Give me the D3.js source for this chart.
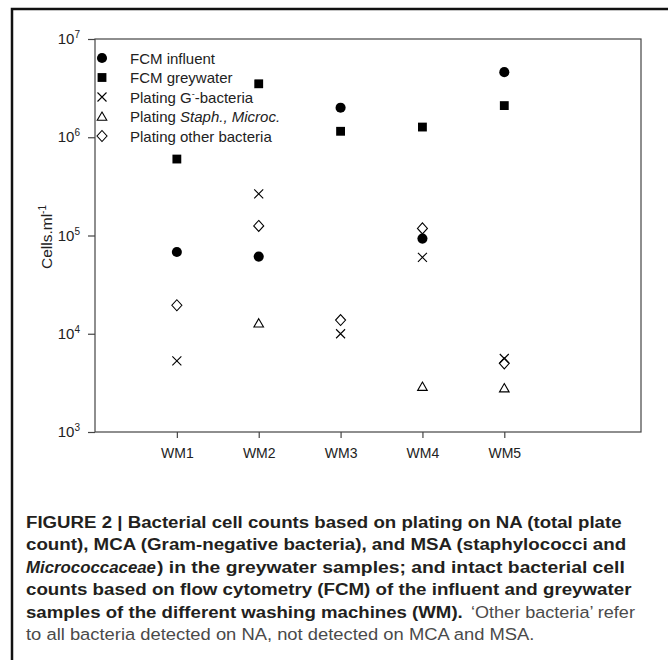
<!DOCTYPE html>
<html>
<head>
<meta charset="utf-8">
<script src="https://cdn.jsdelivr.net/npm/d3@7"></script>
<style>
  body { margin: 0; background: #fff; }
  svg { display: block; font-family: Arial, 'Liberation Sans', sans-serif; }
</style>
</head>
<body>
<div id="chart"></div>
<script>
// washing machines
const categories = ['WM1', 'WM2', 'WM3', 'WM4', 'WM5']

// cells per ml (null = not shown)
const fcmInfluent = [6.8e4, 6.1e4, 2.0e6, 9.3e4, 4.6e6]
const fcmGreywater = [6.0e5, 3.5e6, 1.15e6, 1.27e6, 2.1e6]
const platingGneg = [5.3e3, 2.65e5, 1.0e4, 6.0e4, 5.6e3]
const platingStaph = [null, 1.28e4, null, 2.9e3, 2.8e3]
const platingOther = [1.95e4, 1.25e5, 1.38e4, 1.18e5, 5.0e3]

const yTicks = [1e3, 1e4, 1e5, 1e6, 1e7]

// caption pieces: text, bold, italic, line, left x, right x
const captionParts = [
  { t: 'FIGURE 2 | Bacterial cell counts based on plating on NA (total plate', b: true, line: 0, x0: 26, x1: 622 },
  { t: 'count), MCA (Gram-negative bacteria), and MSA (staphylococci and', b: true, line: 1, x0: 26, x1: 627 },
  { t: 'Micrococcaceae', b: true, i: true, line: 2, x0: 26, x1: 156 },
  { t: ') in the greywater samples; and intact bacterial cell', b: true, line: 2, x0: 157, x1: 625 },
  { t: 'counts based on flow cytometry (FCM) of the influent and greywater', b: true, line: 3, x0: 26, x1: 632 },
  { t: 'samples of the different washing machines (WM).', b: true, line: 4, x0: 26, x1: 463 },
  { t: '\u2018Other bacteria\u2019 refer', b: false, line: 4, x0: 471, x1: 635 },
  { t: 'to all bacteria detected on NA, not detected on MCA and MSA.', b: false, line: 5, x0: 26, x1: 535 }
]

const width = 668
const height = 660
const plot = { left: 95, right: 641, top: 39, bottom: 432 }

const svg = d3.select('#chart')
  .append('svg')
  .attr('width', width)
  .attr('height', height)

// frame (top and left rule)
svg.append('path')
  .attr('d', `M12,${height} L12,9 L${width},9`)
  .attr('fill', 'none')
  .attr('stroke', '#111')
  .attr('stroke-width', 2.5)

const x = d3.scaleLinear().domain([0, 6.67]).range([plot.left, plot.right])
const y = d3.scaleLog().domain([1e3, 1e7]).range([plot.bottom, plot.top])

const axisColor = '#444'

// box
svg.append('rect')
  .attr('x', plot.left)
  .attr('y', plot.top)
  .attr('width', plot.right - plot.left)
  .attr('height', plot.bottom - plot.top)
  .attr('fill', 'none')
  .attr('stroke', axisColor)
  .attr('stroke-width', 1.2)

// y axis
const yAxis = svg.append('g')
  .attr('transform', `translate(${plot.left},0)`)
  .call(d3.axisLeft(y).tickValues(yTicks).tickSize(7).tickFormat(''))
yAxis.select('.domain').remove()
yAxis.selectAll('.tick line').attr('stroke', axisColor).attr('stroke-width', 1.2)

yTicks.forEach(v => {
  const t = svg.append('text')
    .attr('x', 80)
    .attr('y', y(v) + 5)
    .attr('text-anchor', 'end')
    .attr('fill', '#222')
    .style('font-size', '15px')
  t.append('tspan').text('10')
  t.append('tspan').attr('dy', -6).style('font-size', '10px').text(Math.round(Math.log10(v)))
})

// x axis
const xAxis = svg.append('g')
  .attr('transform', `translate(0,${plot.bottom})`)
  .call(d3.axisBottom(x).tickValues(categories.map((d, i) => i + 1)).tickSize(6)
    .tickFormat(d => categories[d - 1]))
xAxis.select('.domain').remove()
xAxis.selectAll('.tick line').attr('stroke', axisColor).attr('stroke-width', 1.2)
xAxis.selectAll('.tick text')
  .attr('y', 16)
  .attr('dy', '0.71em')
  .attr('fill', '#222')
  .style('font-size', '14px')
  .style('font-family', 'Arial, Liberation Sans, sans-serif')

// y label
const yLabel = svg.append('text')
  .attr('transform', 'translate(52,237) rotate(-90)')
  .attr('text-anchor', 'middle')
  .attr('fill', '#222')
  .style('font-size', '15.5px')
yLabel.append('tspan').text('Cells.ml')
yLabel.append('tspan').attr('dy', -6).style('font-size', '10px').text('-1')

// markers
const markerPath = {
  circle: d3.symbol(d3.symbolCircle, 80)(),
  square: d3.symbol(d3.symbolSquare, 78)(),
  cross: 'M-4.5,-4.5L4.5,4.5M-4.5,4.5L4.5,-4.5',
  triangle: 'M0,-4.5L4.8,3.8L-4.8,3.8Z',
  diamond: 'M0,-5.5L5,0L0,5.5L-5,0Z'
}

const series = [
  { name: 'FCM influent', values: fcmInfluent, shape: 'circle', filled: true },
  { name: 'FCM greywater', values: fcmGreywater, shape: 'square', filled: true },
  { name: 'Plating G-bacteria', values: platingGneg, shape: 'cross', filled: false },
  { name: 'Plating Staph., Microc.', values: platingStaph, shape: 'triangle', filled: false },
  { name: 'Plating other bacteria', values: platingOther, shape: 'diamond', filled: false }
]

function drawMarker(sel, s) {
  sel.attr('d', markerPath[s.shape])
    .attr('fill', s.filled ? '#000' : 'none')
    .attr('stroke', '#000')
    .attr('stroke-width', s.filled ? 0 : 1.1)
}

series.forEach(s => {
  svg.append('g')
    .selectAll('path')
    .data(s.values.map((v, i) => ({ v, i })).filter(d => d.v != null))
    .join('path')
    .attr('transform', d => `translate(${x(d.i + 1)},${y(d.v)})`)
    .call(drawMarker, s)
})

// legend
const legend = svg.append('g').attr('transform', 'translate(102,58)')
series.forEach((s, k) => {
  const row = legend.append('g').attr('transform', `translate(0,${k * 19.5})`)
  row.append('path').call(drawMarker, s)
  const t = row.append('text')
    .attr('x', 28)
    .attr('y', 5.5)
    .attr('fill', '#222')
    .style('font-size', '15px')
  if (k === 2) {
    t.append('tspan').text('Plating G')
    t.append('tspan').attr('dy', -6).style('font-size', '9px').text('-')
    t.append('tspan').attr('dy', 6).text('-bacteria')
  } else if (k === 3) {
    t.append('tspan').text('Plating ')
    t.append('tspan').style('font-style', 'italic').text('Staph., Microc.')
  } else {
    t.text(s.name)
  }
})

// caption: each piece stretched horizontally to its measured span
svg.append('g')
  .selectAll('text')
  .data(captionParts)
  .join('text')
  .attr('fill', d => d.b ? '#231f20' : '#4a4a4a')
  .style('font-size', '17px')
  .style('font-weight', d => d.b ? 'bold' : 'normal')
  .style('font-style', d => d.i ? 'italic' : 'normal')
  .text(d => d.t)
  .each(function (d) {
    const len = this.getComputedTextLength()
    const sx = (d.x1 - d.x0) / len
    d3.select(this).attr('transform', `translate(${d.x0},${527.5 + d.line * 22.5}) scale(${sx},1)`)
  })
</script>
</body>
</html>
